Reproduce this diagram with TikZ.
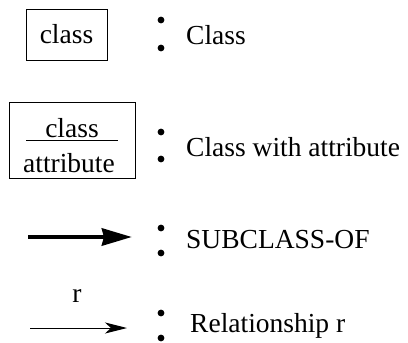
\documentclass[tikz,border=0pt]{standalone}
\usepackage{fontspec}
\setmainfont{Liberation Serif}
\usetikzlibrary{arrows.meta}
\begin{document}
\begin{tikzpicture}[x=1pt,y=-1pt,
  every node/.style={font=\fontsize{27.5}{33}\selectfont, inner sep=0pt},
  classbox/.style={draw, line width=1pt},
  legend/.style={anchor=west},
  sep/.style={fill=black},
  thickarrow/.style={line width=4.5pt, -{Triangle[length=30pt,width=17pt,inset=2pt]}},
  thinarrow/.style={line width=1pt, -{Stealth[length=22pt,width=11pt,inset=6pt]}}]
  \useasboundingbox (0,0) rectangle (408,343);

  % class
  \node[classbox, minimum width=81pt, minimum height=51pt] (cls) at (66.5,34.5) {class};
  \fill[sep] (161,20) circle (3.4) (161,48) circle (3.4);
  \node[legend] (l1) at (186,35) {Class};

  % class with attribute
  \node[classbox, minimum width=126pt, minimum height=76pt] (clsattr) at (72,140) {};
  \node (cname) at (72,128) {class};
  \node (aname) at (69,163) {attribute};
  \coordinate (ul) at (26,140);
  \coordinate (ur) at (118,140);
  \draw[line width=1pt] (ul) -- (ur);
  \fill[sep] (161,132) circle (3.4) (161,159) circle (3.4);
  \node[legend] (l2) at (186,147) {Class with attribute};

  % subclass-of
  \coordinate (s0) at (28,237);
  \coordinate (s1) at (132,237);
  \draw[thickarrow] (s0) -- (s1);
  \fill[sep] (161,228) circle (3.4) (161,253) circle (3.4);
  \node[legend] (l3) at (186,240) {SUBCLASS-OF};

  % relationship
  \coordinate (r0) at (30,328);
  \coordinate (r1) at (127,328);
  \draw[thinarrow] (r0) -- (r1);
  \node (rlab) at (77,296) {r};
  \fill[sep] (161,313) circle (3.4) (161,338) circle (3.4);
  \node[legend] (l4) at (190,326) {Relationship r};
\end{tikzpicture}
\end{document}
